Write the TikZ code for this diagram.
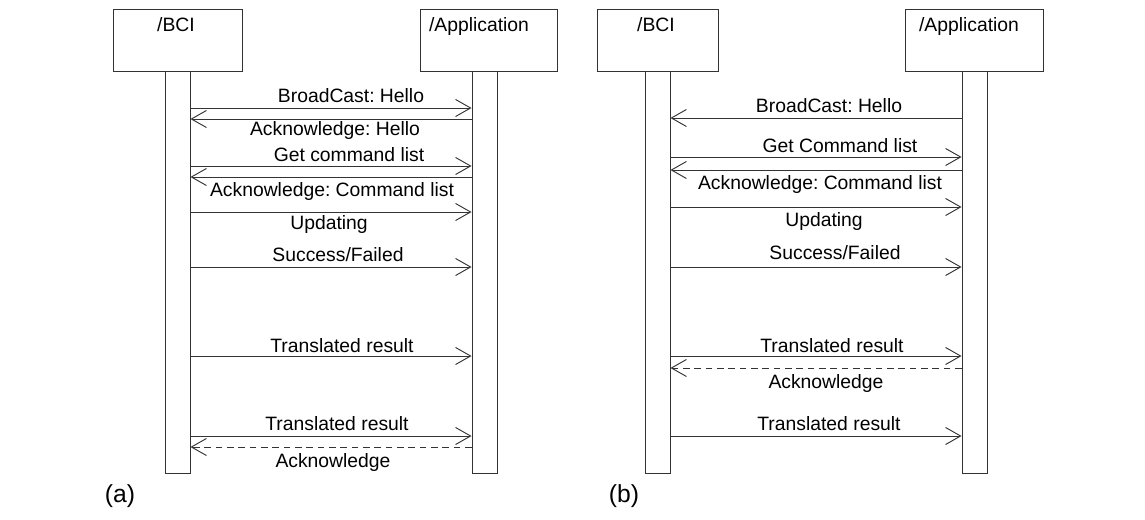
\documentclass[tikz,border=0pt]{standalone}
\usepackage{fontspec}
\setmainfont{Liberation Sans}
\usetikzlibrary{arrows.meta}
\frenchspacing
\begin{document}
\begin{tikzpicture}[x=0.75pt,y=-0.75pt,
  ln/.style={draw=black!80, line width=0.7pt},
  head/.style={ln, fill=white, minimum height=46.5pt, inner sep=0pt},
  bar/.style={ln, fill=white, minimum width=18.75pt, minimum height=301.5pt, inner sep=0pt},
  lbl/.style={anchor=base, inner sep=0pt, font=\fontsize{14.5}{17}\selectfont},
  sublabel/.style={anchor=base, inner sep=0pt, font=\fontsize{18.5}{21}\selectfont},
  msg/.style={ln, -{Straight Barb[length=11.25pt,width=12.75pt]}},
  reply/.style={msg, dash pattern=on 5pt off 3.5pt}]
\useasboundingbox (0,0) rectangle (1145,520);

% ---------------- (a) ----------------
\node[head, minimum width=96.75pt]  (hbA) at (177.5,40) {};
\node[head, minimum width=102.75pt] (haA) at (488.5,40) {};
\node[bar] (bA) at (177.5,272) {};
\node[bar] (aA) at (484.5,272) {};
\node[lbl] (tbA) at (176,32) {/BCI};
\node[lbl] (taA) at (479,32) {/Application};

\draw[msg]   (bA.east |- 0,108) -- (aA.west |- 0,108);
\draw[msg]   (aA.west |- 0,119) -- (bA.east |- 0,119);
\draw[msg]   (bA.east |- 0,166) -- (aA.west |- 0,166);
\draw[msg]   (aA.west |- 0,177) -- (bA.east |- 0,177);
\draw[msg]   (bA.east |- 0,212) -- (aA.west |- 0,212);
\draw[msg]   (bA.east |- 0,267) -- (aA.west |- 0,267);
\draw[msg]   (bA.east |- 0,356) -- (aA.west |- 0,356);
\draw[msg]   (bA.east |- 0,436) -- (aA.west |- 0,436);
\draw[reply] (aA.west |- 0,447) -- (bA.east |- 0,447);

\node[lbl] (mA1) at (351,103) {BroadCast: Hello};
\node[lbl] (mA2) at (335,136) {Acknowledge: Hello};
\node[lbl] (mA3) at (349,162) {Get command list};
\node[lbl] (mA4) at (332,197) {Acknowledge: Command list};
\node[lbl] (mA5) at (329,230) {Updating};
\node[lbl] (mA6) at (338,262) {Success/Failed};
\node[lbl] (mA7) at (342,352) {Translated result};
\node[lbl] (mA8) at (337,430) {Translated result};
\node[lbl] (mA9) at (333,467) {Acknowledge};
\node[sublabel] (capA) at (120,502) {(a)};

% ---------------- (b) ----------------
\node[head, minimum width=90.75pt] (hbB) at (657.5,40) {};
\node[head, minimum width=103.5pt] (haB) at (974,40) {};
\node[bar] (bB) at (657.5,272) {};
\node[bar] (aB) at (974.5,272) {};
\node[lbl] (tbB) at (656,32) {/BCI};
\node[lbl] (taB) at (969,32) {/Application};

\draw[msg]   (aB.west |- 0,118) -- (bB.east |- 0,118);
\draw[msg]   (bB.east |- 0,157) -- (aB.west |- 0,157);
\draw[msg]   (aB.west |- 0,170) -- (bB.east |- 0,170);
\draw[msg]   (bB.east |- 0,207) -- (aB.west |- 0,207);
\draw[msg]   (bB.east |- 0,267) -- (aB.west |- 0,267);
\draw[msg]   (bB.east |- 0,356) -- (aB.west |- 0,356);
\draw[reply] (aB.west |- 0,368) -- (bB.east |- 0,368);
\draw[msg]   (bB.east |- 0,436) -- (aB.west |- 0,436);

\node[lbl] (mB1) at (829,113) {BroadCast: Hello};
\node[lbl] (mB2) at (840,153) {Get Command list};
\node[lbl] (mB3) at (820,190) {Acknowledge: Command list};
\node[lbl] (mB4) at (824,227) {Updating};
\node[lbl] (mB5) at (835,260) {Success/Failed};
\node[lbl] (mB6) at (832,352) {Translated result};
\node[lbl] (mB7) at (826,388) {Acknowledge};
\node[lbl] (mB8) at (829,430) {Translated result};
\node[sublabel] (capB) at (624,502) {(b)};
\end{tikzpicture}
\end{document}
